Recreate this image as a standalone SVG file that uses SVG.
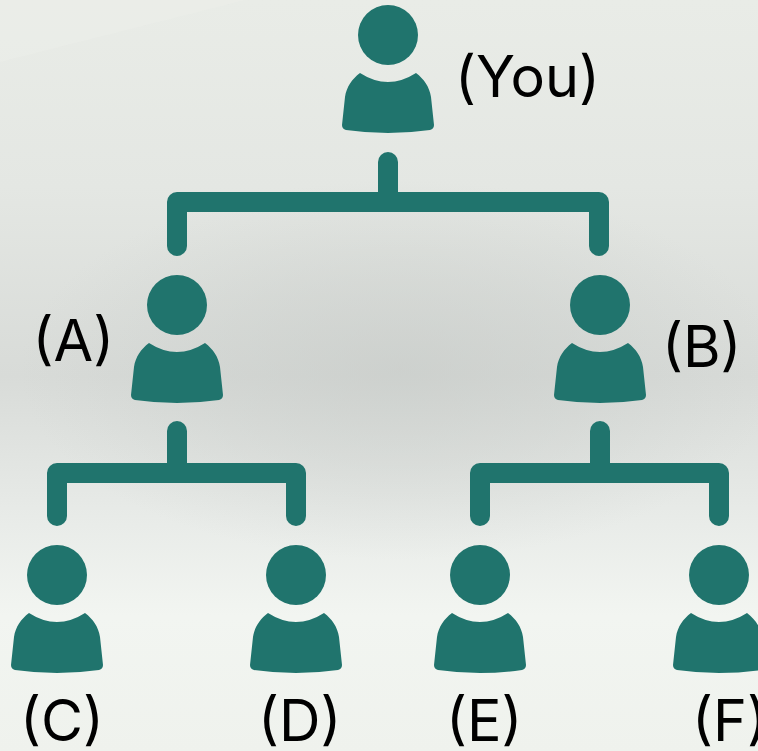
<svg xmlns="http://www.w3.org/2000/svg" width="758" height="751" viewBox="0 0 758 751">
<style>
.head{fill:#20746d}
.body{fill:#20746d}
.lbl{font-family:"Inter","Noto Sans",sans-serif;font-weight:400;font-size:57.5px;fill:#000}
.conn{fill:none;stroke:#20746d;stroke-width:20;stroke-linecap:round;stroke-linejoin:round}
</style>
<defs>
<linearGradient id="bg" x1="0" y1="0" x2="0" y2="1">
<stop offset="0" stop-color="#e9ece7"/>
<stop offset="0.25" stop-color="#e4e7e3"/>
<stop offset="0.5" stop-color="#d8dbd8"/>
<stop offset="0.7" stop-color="#e9ece9"/>
<stop offset="0.82" stop-color="#f2f5f1"/>
<stop offset="1" stop-color="#eff2ed"/>
</linearGradient>
<radialGradient id="shade" cx="400" cy="370" r="380" gradientUnits="userSpaceOnUse" gradientTransform="translate(0 185) scale(1 0.5)">
<stop offset="0" stop-color="#c4c8c5" stop-opacity="0.55"/>
<stop offset="0.5" stop-color="#c4c8c5" stop-opacity="0.3"/>
<stop offset="1" stop-color="#c4c8c5" stop-opacity="0"/>
</radialGradient>
<g id="person">
<circle class="head" cx="0" cy="0" r="30"/>
<path class="body" d="M-28 38 Q0 56 28 38 C36 44 41.500 52 43 62 L46 90 Q46 94 42 95 Q0 101 -42 95 Q-46 94 -46 90 L-43 62 C-41.500 52 -36 44 -28 38 Z"/>
</g>
</defs>
<rect width="758" height="751" fill="url(#bg)"/>
<rect width="758" height="751" fill="url(#shade)"/>
<path d="M0 62 L245 0 H0 Z" fill="#f4f6f1" fill-opacity="0.2"/>
<g id="connectors">
<path class="conn" d="M388 162V202"/>
<path class="conn" d="M177 246V202H599V246"/>
<path class="conn" d="M177 431V473"/>
<path class="conn" d="M57 516V473H296V516"/>
<path class="conn" d="M600 431V473"/>
<path class="conn" d="M480 516V473H719V516"/>
</g>
<g id="node-you"><use href="#person" x="388" y="35"/><text class="lbl" x="455" y="97">(You)</text></g>
<g id="node-a"><use href="#person" x="177" y="305"/><text class="lbl" x="32.500" y="361">(A)</text></g>
<g id="node-b"><use href="#person" x="600" y="305"/><text class="lbl" x="662" y="367">(B)</text></g>
<g id="node-c"><use href="#person" x="57" y="575"/><text class="lbl" x="20" y="741">(C)</text></g>
<g id="node-d"><use href="#person" x="296" y="575"/><text class="lbl" x="258" y="741">(D)</text></g>
<g id="node-e"><use href="#person" x="480" y="575"/><text class="lbl" x="446" y="741">(E)</text></g>
<g id="node-f"><use href="#person" x="719" y="575"/><text class="lbl" x="692" y="741">(F)</text></g>
</svg>
